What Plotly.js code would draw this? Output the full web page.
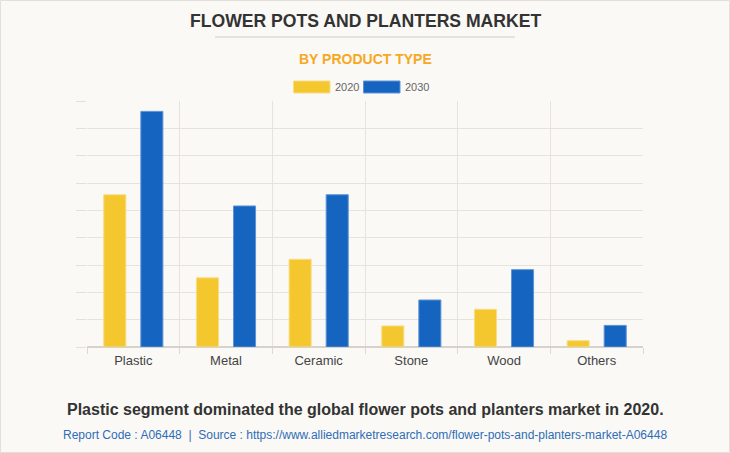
<!DOCTYPE html>
<html>
<head>
<meta charset="utf-8">
<script src="https://cdn.plot.ly/plotly-3.0.1.min.js"></script>
<style>
html,body{margin:0;padding:0;background:#FAF9F5;}
#chart{width:730px;height:453px;}
</style>
</head>
<body>
<div id="chart"></div>
<script>
const categories = ["Plastic", "Metal", "Ceramic", "Stone", "Wood", "Others"];
const values2020 = [5.57, 2.53, 3.21, 0.77, 1.38, 0.23];
const values2030 = [8.62, 5.16, 5.57, 1.72, 2.83, 0.79];
const seriesNames = ["2020", "2030"];
const seriesColors = ["#F4C72F", "#1565C0"];

const font = "Liberation Sans, Arial, sans-serif";

const traces = [
  {type: "bar", name: seriesNames[0], x: categories, y: values2020,
   marker: {color: seriesColors[0], line: {color: "#F8DC86", width: 1}}, hoverinfo: "none"},
  {type: "bar", name: seriesNames[1], x: categories, y: values2030,
   marker: {color: seriesColors[1], line: {color: "#5E93D8", width: 1}}, hoverinfo: "none"}
];

const layout = {
  width: 730, height: 453,
  paper_bgcolor: "#FAF9F5", plot_bgcolor: "#FAF9F5",
  margin: {l: 87, r: 87, t: 101, b: 106},
  showlegend: false,
  barmode: "group", bargap: 0.2, bargroupgap: 0.405,
  font: {family: font, color: "#444"},
  xaxis: {
    type: "category", tickson: "boundaries", ticks: "outside", ticklen: 6,
    tickcolor: "#DDDAD4", showgrid: true, gridcolor: "#E6E3DD", gridwidth: 1,
    showline: false, zeroline: false, fixedrange: true, ticklabelstandoff: 4,
    tickfont: {size: 13, color: "#444", family: font}
  },
  yaxis: {
    range: [0, 9], dtick: 1, showticklabels: false, ticks: "outside", ticklen: 10,
    tickcolor: "#E3E0DA", showgrid: true, gridcolor: "#E6E3DD", gridwidth: 1,
    zeroline: true, zerolinecolor: "#D6D3CD", zerolinewidth: 1.5, showline: false, fixedrange: true
  },
  shapes: [
    {type: "line", xref: "paper", yref: "paper", x0: (215-87)/556, x1: (515-87)/556,
     y0: (453-106-37)/246, y1: (453-106-37)/246, line: {color: "#CFCCC6", width: 1}},
    {type: "rect", xref: "paper", yref: "paper", x0: (293.5-87)/556, x1: (330-87)/556,
     y0: (453-106-93)/246, y1: (453-106-81)/246, fillcolor: seriesColors[0], line: {color: "#F8DC86", width: 1}},
    {type: "rect", xref: "paper", yref: "paper", x0: (363.5-87)/556, x1: (400-87)/556,
     y0: (453-106-93)/246, y1: (453-106-81)/246, fillcolor: seriesColors[1], line: {color: "#5E93D8", width: 1}},
    {type: "rect", xref: "paper", yref: "paper", x0: (0.5-87)/556, x1: (729.5-87)/556,
     y0: (453-106-452.5)/246, y1: (453-106-0.5)/246, line: {color: "#E2E0DB", width: 1}, fillcolor: "rgba(0,0,0,0)"}
  ],
  annotations: [
    {text: "<b>FLOWER POTS AND PLANTERS MARKET</b>", xref: "paper", yref: "paper",
     x: 0.5, y: (453-106-21)/246, xanchor: "center", yanchor: "middle", showarrow: false,
     font: {size: 17.6, color: "#333", family: font}},
    {text: "<b>BY PRODUCT TYPE</b>", xref: "paper", yref: "paper",
     x: 0.5, y: (453-106-59)/246, xanchor: "center", yanchor: "middle", showarrow: false,
     font: {size: 14, color: "#F7A823", family: font}},
    {text: seriesNames[0], xref: "paper", yref: "paper",
     x: (333-87)/556, y: (453-106-87)/246, xanchor: "left", yanchor: "middle", showarrow: false,
     font: {size: 11, color: "#666", family: font}},
    {text: seriesNames[1], xref: "paper", yref: "paper",
     x: (403-87)/556, y: (453-106-87)/246, xanchor: "left", yanchor: "middle", showarrow: false,
     font: {size: 11, color: "#666", family: font}},
    {text: "<b>Plastic segment dominated the global flower pots and planters market in 2020.</b>", xref: "paper", yref: "paper",
     x: 0.5, y: (453-106-409)/246, xanchor: "center", yanchor: "middle", showarrow: false,
     font: {size: 16, color: "#333", family: font}},
    {text: "Report Code : A06448  |  Source : https://www.alliedmarketresearch.com/flower-pots-and-planters-market-A06448", xref: "paper", yref: "paper",
     x: 0.5, y: (453-106-435)/246, xanchor: "center", yanchor: "middle", showarrow: false,
     font: {size: 12, color: "#2E6DB8", family: font}}
  ]
};

Plotly.newPlot("chart", traces, layout, {displayModeBar: false, staticPlot: true});
</script>
</body>
</html>
